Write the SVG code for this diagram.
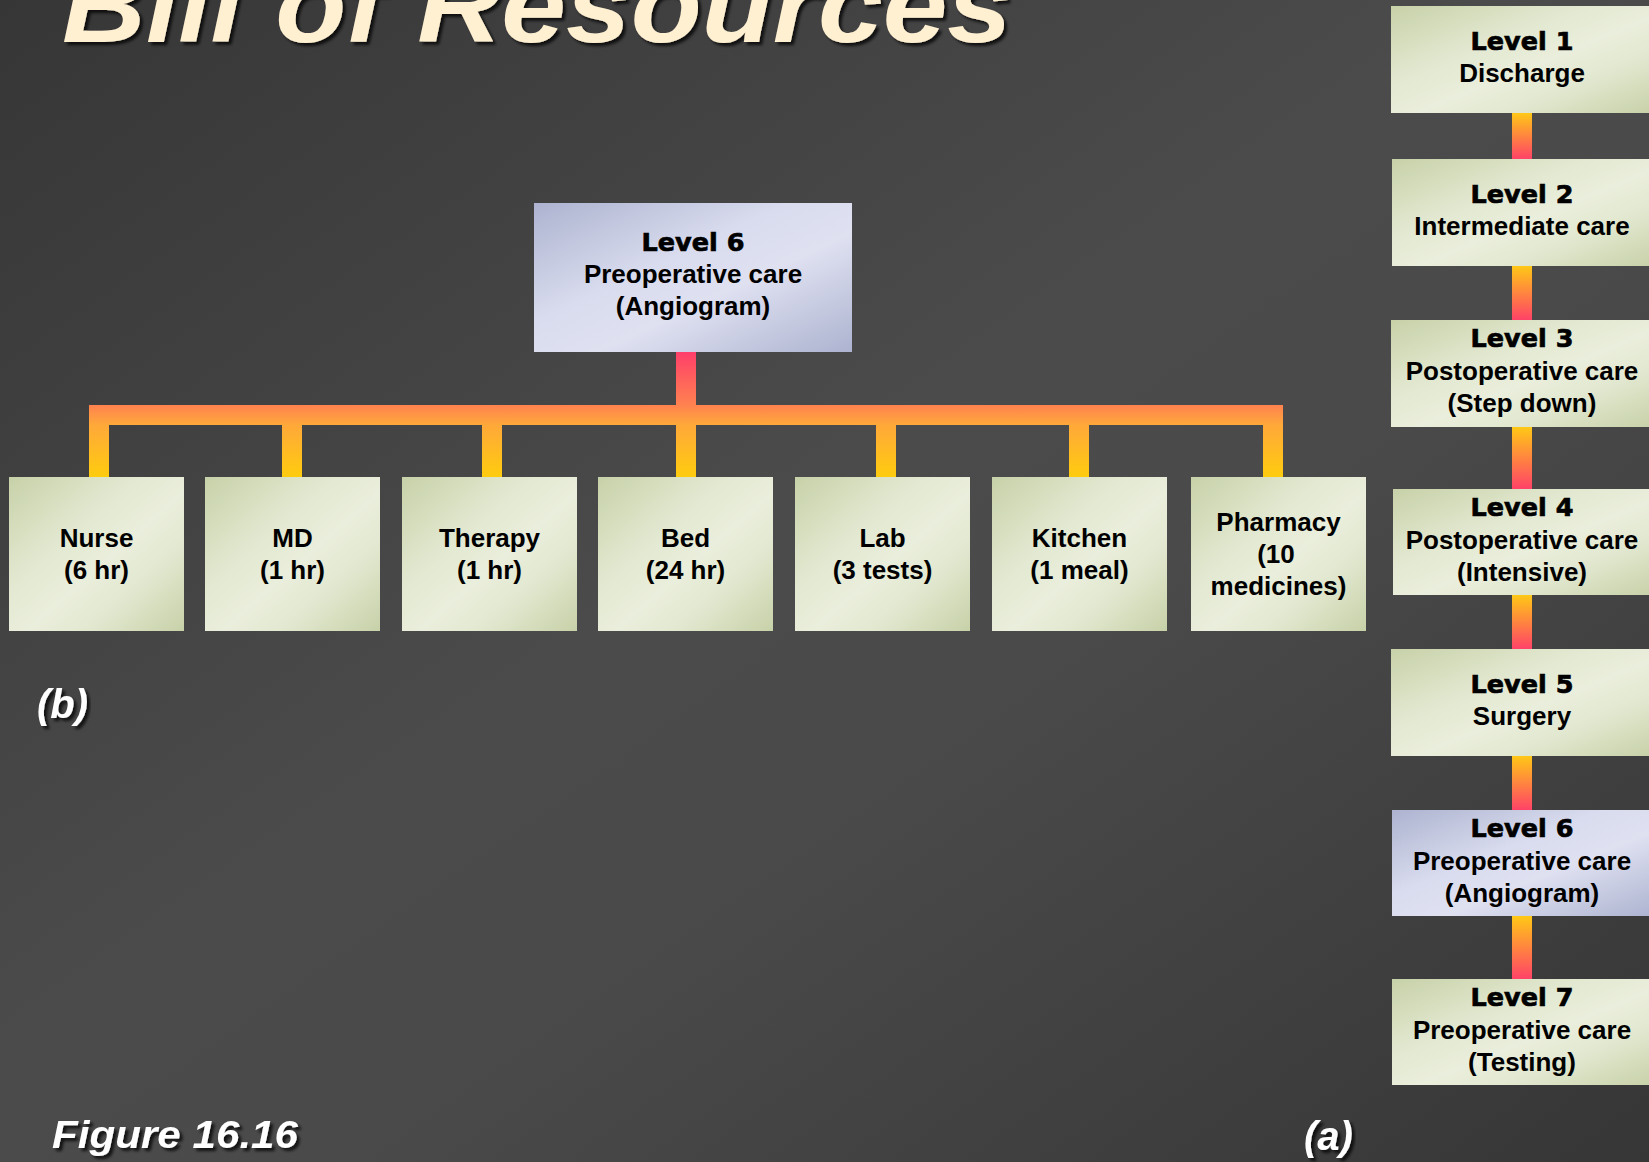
<svg xmlns="http://www.w3.org/2000/svg" width="1649" height="1162" viewBox="0 0 1649 1162">
  <defs>
    <linearGradient id="bg" x1="0" y1="0" x2="1" y2="1">
      <stop offset="0" stop-color="#363636"/>
      <stop offset="0.45" stop-color="#4b4b4b"/>
      <stop offset="0.6" stop-color="#4a4a4a"/>
      <stop offset="1" stop-color="#363636"/>
    </linearGradient>
    <linearGradient id="green" x1="0" y1="0" x2="1" y2="1">
      <stop offset="0" stop-color="#c7d1a8"/>
      <stop offset="0.35" stop-color="#e2e8d0"/>
      <stop offset="0.55" stop-color="#eaeedc"/>
      <stop offset="0.72" stop-color="#e2e8d0"/>
      <stop offset="1" stop-color="#c7d1a8"/>
    </linearGradient>
    <linearGradient id="blue" x1="0" y1="0" x2="1" y2="1">
      <stop offset="0" stop-color="#adb3d0"/>
      <stop offset="0.4" stop-color="#d9dcee"/>
      <stop offset="0.6" stop-color="#dfe1f1"/>
      <stop offset="1" stop-color="#adb3d0"/>
    </linearGradient>
    <!-- tree connector: pink stem, orange bar, yellow drops -->
    <linearGradient id="tree" gradientUnits="userSpaceOnUse" x1="0" y1="352" x2="0" y2="477">
      <stop offset="0" stop-color="#ff3f6a"/>
      <stop offset="0.42" stop-color="#ff8150"/>
      <stop offset="0.58" stop-color="#ffa83a"/>
      <stop offset="1" stop-color="#ffcc0e"/>
    </linearGradient>
    <linearGradient id="chain" x1="0" y1="0" x2="0" y2="1">
      <stop offset="0" stop-color="#ffc816"/>
      <stop offset="1" stop-color="#ff4268"/>
    </linearGradient>
    <filter id="shadow" x="-5%" y="-20%" width="110%" height="140%">
      <feDropShadow dx="3" dy="3" stdDeviation="1.5" flood-color="#000" flood-opacity="0.75"/>
    </filter>
  </defs>
  <style>
    .g { fill: url(#green); }
    .b { fill: url(#blue); }
    .t { font-family: "Liberation Sans", Arial, sans-serif; font-weight: bold; font-size: 26px; fill: #000; text-anchor: middle; }
    .h { font-family: "DejaVu Sans", "Liberation Sans", sans-serif; font-weight: bold; font-size: 25.5px; fill: #000; stroke: #000; stroke-width: 0.7px; text-anchor: middle; }
    .lab { font-family: "Liberation Sans", Arial, sans-serif; font-weight: bold; font-style: italic; fill: #ffffff; filter: url(#shadow); }
    .chain { fill: url(#chain); }
  </style>

  <rect x="0" y="0" width="1649" height="1162" fill="url(#bg)"/>

  <!-- slide title, running off the top edge -->
  <text x="62" y="42" class="lab" font-size="105" style="fill:#fff0d2" textLength="950" lengthAdjust="spacingAndGlyphs">Bill of Resources</text>

  <!-- connectors -->
  <g id="connectors">
    <path fill="url(#tree)" d="M676 352H696V405H1283V477H1263V425H1089V477H1069V425H896V477H876V425H696V477H676V425H502V477H482V425H302V477H282V425H109V477H89V405H676Z"/>
    <rect class="chain" x="1512" y="113" width="20" height="46"/>
    <rect class="chain" x="1512" y="266" width="20" height="54"/>
    <rect class="chain" x="1512" y="427" width="20" height="62"/>
    <rect class="chain" x="1512" y="595" width="20" height="54"/>
    <rect class="chain" x="1512" y="756" width="20" height="54"/>
    <rect class="chain" x="1512" y="916" width="20" height="63"/>
  </g>

  <!-- (b) bill of resources for level 6 -->
  <g id="b-level6">
    <rect class="b" x="534" y="203" width="318" height="149"/>
    <text class="h" x="693" y="251">Level 6</text>
    <text class="t" x="693" y="283">Preoperative care</text>
    <text class="t" x="693" y="315">(Angiogram)</text>
  </g>
  <g id="nurse">
    <rect class="g" x="9" y="477" width="175" height="154"/>
    <text class="t" x="96.5" y="547">Nurse</text>
    <text class="t" x="96.5" y="579">(6 hr)</text>
  </g>
  <g id="md">
    <rect class="g" x="205" y="477" width="175" height="154"/>
    <text class="t" x="292.5" y="547">MD</text>
    <text class="t" x="292.5" y="579">(1 hr)</text>
  </g>
  <g id="therapy">
    <rect class="g" x="402" y="477" width="175" height="154"/>
    <text class="t" x="489.5" y="547">Therapy</text>
    <text class="t" x="489.5" y="579">(1 hr)</text>
  </g>
  <g id="bed">
    <rect class="g" x="598" y="477" width="175" height="154"/>
    <text class="t" x="685.5" y="547">Bed</text>
    <text class="t" x="685.5" y="579">(24 hr)</text>
  </g>
  <g id="lab">
    <rect class="g" x="795" y="477" width="175" height="154"/>
    <text class="t" x="882.5" y="547">Lab</text>
    <text class="t" x="882.5" y="579">(3 tests)</text>
  </g>
  <g id="kitchen">
    <rect class="g" x="992" y="477" width="175" height="154"/>
    <text class="t" x="1079.5" y="547">Kitchen</text>
    <text class="t" x="1079.5" y="579">(1 meal)</text>
  </g>
  <g id="pharmacy">
    <rect class="g" x="1191" y="477" width="175" height="154"/>
    <text class="t" x="1278.5" y="531">Pharmacy</text>
    <text class="t" x="1276" y="563">(10</text>
    <text class="t" x="1278.5" y="595">medicines)</text>
  </g>

  <!-- (a) levels of care -->
  <g id="level1">
    <rect class="g" x="1391" y="6" width="262" height="107"/>
    <text class="h" x="1522" y="50">Level 1</text>
    <text class="t" x="1522" y="82">Discharge</text>
  </g>
  <g id="level2">
    <rect class="g" x="1392" y="159" width="262" height="107"/>
    <text class="h" x="1522" y="203">Level 2</text>
    <text class="t" x="1522" y="235">Intermediate care</text>
  </g>
  <g id="level3">
    <rect class="g" x="1391" y="320" width="262" height="107"/>
    <text class="h" x="1522" y="347">Level 3</text>
    <text class="t" x="1522" y="380">Postoperative care</text>
    <text class="t" x="1522" y="412">(Step down)</text>
  </g>
  <g id="level4">
    <rect class="g" x="1393" y="489" width="262" height="106"/>
    <text class="h" x="1522" y="516">Level 4</text>
    <text class="t" x="1522" y="549">Postoperative care</text>
    <text class="t" x="1522" y="581">(Intensive)</text>
  </g>
  <g id="level5">
    <rect class="g" x="1391" y="649" width="262" height="107"/>
    <text class="h" x="1522" y="693">Level 5</text>
    <text class="t" x="1522" y="725">Surgery</text>
  </g>
  <g id="level6">
    <rect class="b" x="1392" y="810" width="262" height="106"/>
    <text class="h" x="1522" y="837">Level 6</text>
    <text class="t" x="1522" y="870">Preoperative care</text>
    <text class="t" x="1522" y="902">(Angiogram)</text>
  </g>
  <g id="level7">
    <rect class="g" x="1392" y="979" width="262" height="106"/>
    <text class="h" x="1522" y="1006">Level 7</text>
    <text class="t" x="1522" y="1039">Preoperative care</text>
    <text class="t" x="1522" y="1071">(Testing)</text>
  </g>

  <text class="lab" x="37" y="718" font-size="40">(b)</text>
  <text class="lab" x="1304" y="1150" font-size="40">(a)</text>
  <text class="lab" x="52" y="1148" font-size="38" textLength="246" lengthAdjust="spacingAndGlyphs">Figure 16.16</text>
</svg>
